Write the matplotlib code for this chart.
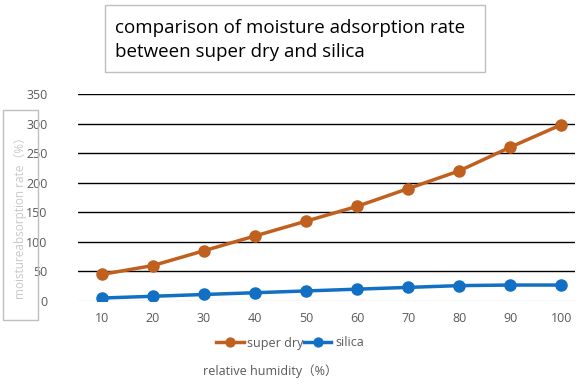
import matplotlib.pyplot as plt
from matplotlib.patches import Rectangle

# chart data
humidity = [10, 20, 30, 40, 50, 60, 70, 80, 90, 100]
super_dry = [45, 60, 85, 110, 135, 160, 190, 220, 260, 298]
silica = [5, 8, 11, 14, 17, 20, 23, 26, 27, 27]
y_ticks = [0, 50, 100, 150, 200, 250, 300, 350]

plt.rcParams['font.family'] = ['Open Sans', 'DejaVu Sans']

fig = plt.figure(figsize=(5.78, 3.85), dpi=100)
W, H = 578, 385
ax = fig.add_axes([78 / W, 1 - 301 / H, (575 - 78) / W, (301 - 94) / H])

orange = '#C0601F'
blue = '#1170C4'
l1, = ax.plot(humidity, super_dry, color=orange, lw=2.5, marker='o', ms=8, label='super dry')
l2, = ax.plot(humidity, silica, color=blue, lw=2.5, marker='o', ms=8, label='silica')

ax.set_xlim(5.3, 102.7)
ax.set_ylim(0, 350)
ax.set_yticks(y_ticks)
ax.set_xticks(humidity)
for y in y_ticks:
    ax.axhline(y, color='black' if y > 0 else '#d9d9d9', lw=1, zorder=0)
for s in ax.spines.values():
    s.set_visible(False)
ax.tick_params(length=0, labelsize=9, labelcolor='#595959')
ax.tick_params(axis='x', pad=8)
ax.tick_params(axis='y', pad=22)

fig.legend(handles=[l1, l2], loc='center', bbox_to_anchor=(290 / W, 1 - 343 / H),
           ncol=2, frameon=False, fontsize=9, handlelength=2.2, columnspacing=0.0,
           handletextpad=0.3, labelcolor='#595959', markerscale=0.8)

fig.text(270 / W, 1 - 371 / H, 'relative humidity（%）', ha='center', va='center',
         fontsize=9, color='#595959', family=['Open Sans', 'Noto Sans CJK SC'])

# y label in a box
fig.patches.append(Rectangle((3 / W, 1 - 320 / H), 35 / W, 210 / H, transform=fig.transFigure,
                             fill=False, edgecolor='#bfbfbf', lw=1))
fig.text(20 / W, 1 - 215 / H, 'moistureabsorption rate（%）', rotation=90, ha='center',
         va='center', fontsize=8.5, color='#c8c8c8', family=['Open Sans', 'Noto Sans CJK SC'])

# title box
fig.patches.append(Rectangle((105 / W, 1 - 72 / H), 380 / W, 67 / H, transform=fig.transFigure,
                             fill=False, edgecolor='#bfbfbf', lw=1))
fig.text(115 / W, 1 - 40 / H, 'comparison of moisture adsorption rate\nbetween super dry and silica',
         ha='left', va='center', fontsize=13.5, color='black', linespacing=1.45)

fig.savefig('out.png', dpi=100)
